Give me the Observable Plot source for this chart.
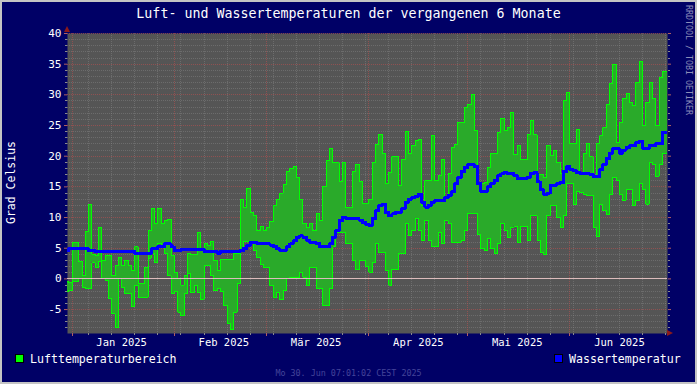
<!DOCTYPE html>
<html><head><meta charset="utf-8">
<script src="https://cdn.jsdelivr.net/npm/d3@7"></script>
<script src="https://cdn.jsdelivr.net/npm/@observablehq/plot@0.6"></script>
<style>
html,body{margin:0;padding:0;background:#000066;}
#wrap{position:relative;width:697px;height:384px;background:#000066;overflow:hidden;}
#wrap svg{position:absolute;left:0;top:0;}
#border{position:absolute;left:0;top:0;width:697px;height:384px;box-sizing:border-box;border:2px solid #c4c4c4;pointer-events:none;}
</style></head><body>
<div id="wrap"><div id="border"></div></div>
<script>
// ---- data (one value per day, first day = 2024-12-30, UTC days) ----
const firstDay = "2024-12-30";
const airMin = [
 -2.0,-1.9,-0.5,-0.5,0.0,-1.4,-1.5,-1.6,2.6,1.9,
 2.8,0.0,-0.3,-3.2,-5.7,-8.0,0.0,-1.4,-2.4,-2.4,
 -4.5,-1.1,-3.0,-3.0,-3.0,3.4,4.1,2.6,5.8,5.2,
 4.1,0.5,-2.4,-2.0,-5.4,-6.0,-2.4,0.8,-2.2,-1.0,
 -2.2,-3.3,2.2,2.2,0.5,-1.9,-1.6,-2.0,-4.3,-7.3,
 -8.3,-5.4,-0.8,4.6,6.1,6.1,5.7,4.6,3.5,2.4,
 1.9,1.9,-1.1,-3.0,-2.2,-3.4,-1.9,0.0,0.3,0.3,
 0.3,1.1,0.3,-1.1,1.9,1.9,-1.5,-1.5,-4.3,-4.3,
 -1.6,5.2,7.6,7.6,7.6,5.7,5.7,3.0,1.5,3.0,
 3.0,2.0,1.1,2.7,5.7,4.3,4.3,1.4,-1.0,1.6,
 1.6,4.2,4.2,9.0,7.1,7.9,9.8,7.9,6.2,9.5,
 6.2,5.2,5.2,7.6,5.7,9.5,9.0,6.0,6.0,6.0,
 6.3,7.9,10.7,10.7,10.7,7.3,4.9,4.7,6.6,5.0,
 4.2,5.7,9.1,7.9,6.8,8.4,8.5,6.0,8.5,8.5,
 6.2,10.3,10.3,6.2,4.3,4.0,10.3,11.9,11.9,10.0,
 8.3,10.3,15.5,15.5,12.2,14.3,14.1,13.8,13.6,13.6,
 8.4,6.9,12.2,11.1,10.5,13.8,16.6,16.0,13.7,12.8,
 14.5,14.5,11.9,12.8,15.5,14.5,12.2,19.0,18.7,16.7,
 18.7,20.4,20.4
];
const airMax = [
 -0.4,-0.6,5.9,5.9,2.8,0.5,7.8,12.2,4.0,3.8,
 8.4,3.0,3.8,3.8,0.5,2.2,3.5,2.2,3.0,2.2,
 1.4,5.2,-0.8,-0.8,1.9,7.9,11.5,9.0,11.5,9.0,
 9.5,9.7,3.8,1.0,0.0,-1.0,0.5,4.1,4.0,4.0,
 7.6,4.6,5.8,5.5,6.1,3.0,1.4,3.1,3.1,3.1,
 3.1,4.1,4.1,13.0,11.7,14.8,10.9,10.3,7.9,8.5,
 7.9,8.4,9.4,11.9,13.0,14.0,15.4,17.5,18.0,18.3,
 16.5,13.0,9.0,8.4,9.1,7.9,10.6,9.6,15.0,19.3,
 21.2,18.9,18.9,15.9,18.9,11.7,11.7,17.5,18.7,15.9,
 12.3,12.3,12.9,19.0,21.9,23.6,20.4,15.5,17.4,19.9,
 19.9,15.2,19.5,24.0,20.4,21.7,22.6,22.8,12.0,16.0,
 16.0,23.3,16.0,16.8,19.4,13.3,17.1,21.4,21.9,25.5,
 25.5,28.0,28.4,30.1,24.2,15.7,15.5,15.7,18.2,20.5,
 20.5,23.9,26.2,24.2,24.7,27.1,20.2,21.7,19.5,19.5,
 23.5,25.8,23.5,17.0,17.0,16.5,21.7,20.1,20.9,19.0,
 17.1,29.0,30.4,22.0,22.0,24.3,17.1,20.4,22.0,19.9,
 16.6,22.0,23.3,24.6,28.5,31.8,35.0,22.3,25.5,29.4,
 30.2,28.8,28.3,32.0,35.4,25.0,28.8,32.0,29.4,25.0,
 32.8,33.8,33.8
];
const water = [
 4.6,5.0,4.9,4.9,4.9,4.9,4.9,4.6,4.6,4.45,
 4.45,4.45,4.45,4.45,4.45,4.45,4.45,4.45,4.45,4.45,
 4.45,4.2,4.2,4.2,4.2,4.2,4.9,4.9,5.3,5.3,
 5.7,5.7,5.2,4.6,4.6,4.8,4.8,4.8,4.8,4.8,
 4.8,4.8,4.5,4.5,4.5,4.5,4.2,4.5,4.5,4.5,
 4.5,4.5,4.5,4.6,5.0,5.5,6.0,6.0,5.8,5.7,
 5.7,5.7,5.5,5.3,4.9,4.6,4.7,5.2,5.7,6.2,
 6.8,7.0,6.8,6.3,6.0,6.0,5.8,5.3,5.2,5.2,
 5.7,6.8,7.9,9.5,10.0,9.9,9.8,9.8,9.8,9.6,
 9.2,8.9,8.7,9.8,11.1,12.0,12.2,10.8,10.3,10.6,
 10.9,10.9,11.5,12.5,13.0,13.3,13.5,13.8,12.5,11.7,
 12.0,12.5,12.8,12.8,12.8,13.2,13.6,14.2,15.5,16.5,
 17.5,18.2,18.6,18.6,18.3,15.5,14.2,14.3,15.0,15.5,
 16.0,16.8,17.1,17.3,17.2,17.2,16.8,16.3,16.3,16.3,
 16.6,17.2,17.3,15.8,14.5,13.8,14.0,15.2,15.3,15.5,
 15.7,17.5,18.3,17.8,17.6,17.3,17.2,17.2,17.1,17.0,
 16.7,16.7,17.8,18.7,19.6,20.5,21.2,21.2,20.5,21.0,
 21.4,21.7,21.7,22.2,22.4,21.3,21.2,21.7,21.7,22.0,
 22.0,23.9,23.9
];
const yLabelTicks = [-5, 0, 5, 10, 15, 20, 25, 30, 35, 40];
const monthLabels = ["Jan 2025", "Feb 2025", "Mär 2025", "Apr 2025", "Mai 2025", "Jun 2025"];
const monthStarts = ["2025-01-01","2025-02-01","2025-03-01","2025-04-01","2025-05-01","2025-06-01"];
const title = "Luft- und Wassertemperaturen der vergangenen 6 Monate";
const yTitle = "Grad Celsius";
const legendAir = "Lufttemperaturbereich";
const legendWater = "Wassertemperatur";
const footer = "Mo 30. Jun 07:01:02 CEST 2025";
const watermark = "RRDTOOL / TOBI OETIKER";

// ---- build tables ----
const DAY = 864e5;
const t0 = new Date(firstDay + "T00:00:00Z").getTime();
const xStart = new Date(Date.UTC(2024, 11, 30, 13, 50));
const xEnd = new Date(xStart.getTime() + 182 * DAY);
const air = airMin.map((lo, i) => ({date: new Date(t0 + i * DAY), lo, hi: airMax[i]}));
air.push({date: new Date(t0 + airMin.length * DAY), lo: airMin[airMin.length - 1], hi: airMax[airMax.length - 1]});
const wat = water.map((v, i) => ({date: new Date(t0 + (i + 0.5) * DAY), v}));
const months = monthStarts.map(s => new Date(s + "T00:00:00Z"));
const monthMid = months.map(d => new Date(d.getTime() + 15 * DAY));
const mondays = d3.utcMonday.range(xStart, xEnd);
const minorY = d3.range(-8, 41).filter(v => v % 5 !== 0);

const font = "DejaVu Sans Mono";
const crisp = {shapeRendering: "crispEdges"};
const gridMinor = {stroke: "#8a8a8a", strokeOpacity: 0.45, strokeDasharray: "1,1", strokeWidth: 1, ...crisp};
const gridMajor = {stroke: "#b05050", strokeOpacity: 0.65, strokeDasharray: "1,1", strokeWidth: 1, ...crisp};
const chart = Plot.plot({
  width: 697, height: 384,
  marginLeft: 67, marginRight: 30, marginTop: 33, marginBottom: 51,
  style: {background: "transparent", color: "#ffffff", fontFamily: font, fontSize: "11px", overflow: "visible"},
  x: {type: "utc", domain: [xStart, xEnd]},
  y: {domain: [-8.9, 40]},
  marks: [
    Plot.frame({fill: "#555555", stroke: null}),
    Plot.ruleY(minorY, gridMinor),
    Plot.ruleX(mondays, gridMinor),
    Plot.ruleY(yLabelTicks, gridMajor),
    Plot.ruleX(months, gridMajor),
    Plot.areaY(air, {x: "date", y1: "lo", y2: "hi", curve: "step-after", fill: "#2aaa2a", clip: true, ...crisp}),
    Plot.lineY(air, {x: "date", y: "hi", curve: "step-after", stroke: "#00ff00", strokeWidth: 1, clip: true, ...crisp}),
    Plot.lineY(air, {x: "date", y: "lo", curve: "step-after", stroke: "#00ff00", strokeWidth: 1, clip: true, ...crisp}),
    Plot.ruleY([0], {stroke: "#dcbcbc", strokeWidth: 1, ...crisp}),
    Plot.lineY(wat, {x: "date", y: "v", curve: "step", stroke: "#0000ff", strokeWidth: 3, clip: true, ...crisp}),
    Plot.axisY({ticks: minorY, tickSize: 2, tickFormat: () => "", stroke: "#8a8a8a", ...crisp}),
    Plot.axisY({ticks: minorY, anchor: "right", tickSize: 2, tickFormat: () => "", stroke: "#8a8a8a", ...crisp}),
    Plot.axisY({ticks: yLabelTicks, tickSize: 3, tickPadding: 3, tickFormat: d => String(d), stroke: "#b06060", fill: "#ffffff", fontSize: 11}),
    Plot.axisY({ticks: yLabelTicks, anchor: "right", tickSize: 3, tickFormat: () => "", stroke: "#b06060"}),
    Plot.axisX({ticks: mondays, tickSize: 2, tickFormat: () => "", stroke: "#8a8a8a", ...crisp}),
    Plot.axisX({ticks: months, tickSize: 3, tickFormat: () => "", stroke: "#b06060", ...crisp}),
    Plot.axisX({ticks: monthMid, tickSize: 0, tickPadding: 5, tickFormat: (d, i) => monthLabels[i], fill: "#ffffff", fontSize: 10.5}),
    Plot.axisX({ticks: [], label: null}),
    Plot.axisY({ticks: [], label: null})
  ]
});
const wrap = document.getElementById("wrap");
wrap.insertBefore(chart, wrap.firstChild);

// ---- overlay texts ----
const ns = "http://www.w3.org/2000/svg";
const ov = document.createElementNS(ns, "svg");
ov.setAttribute("width", 697); ov.setAttribute("height", 384);
ov.style.fontFamily = font;
wrap.insertBefore(ov, document.getElementById("border"));
function txt(s, x, y, size, fill, anchor, rot) {
  const t = document.createElementNS(ns, "text");
  t.textContent = s;
  t.setAttribute("x", 0); t.setAttribute("y", 0);
  t.setAttribute("font-size", size);
  t.setAttribute("fill", fill);
  t.setAttribute("text-anchor", anchor || "start");
  t.setAttribute("transform", `translate(${x},${y})` + (rot ? ` rotate(${rot})` : ""));
  t.setAttribute("xml:space", "preserve");
  ov.appendChild(t);
}
function rect(x, y, w, h, fill) {
  const r = document.createElementNS(ns, "rect");
  r.setAttribute("x", x); r.setAttribute("y", y); r.setAttribute("width", w); r.setAttribute("height", h);
  r.setAttribute("fill", fill); r.setAttribute("stroke", "#000"); r.setAttribute("stroke-width", 1);
  ov.appendChild(r);
}
function path(d, fill) {
  const p = document.createElementNS(ns, "path");
  p.setAttribute("d", d); p.setAttribute("fill", fill);
  ov.appendChild(p);
}
txt(title, 348.5, 18, 13.3, "#ffffff", "middle");
txt(yTitle, 15, 182.5, 11.5, "#ffffff", "middle", -90);
txt(watermark, 686, 5, 8.3, "#8c8cb8", "start", 90);
rect(15.5, 354.5, 8, 8, "#00ff00");
txt(legendAir, 30, 363, 11.6, "#ffffff", "start");
rect(554.5, 354.5, 8, 8, "#0000ff");
txt(legendWater, 569, 363, 11.6, "#ffffff", "start");
txt(footer, 348.5, 376, 8.4, "#44449a", "middle");
path("M64,32 L70,32 L67,26 Z", "#8b1a1a");
path("M667,330 L667,336 L673,333 Z", "#8b1a1a");
</script>
</body></html>
